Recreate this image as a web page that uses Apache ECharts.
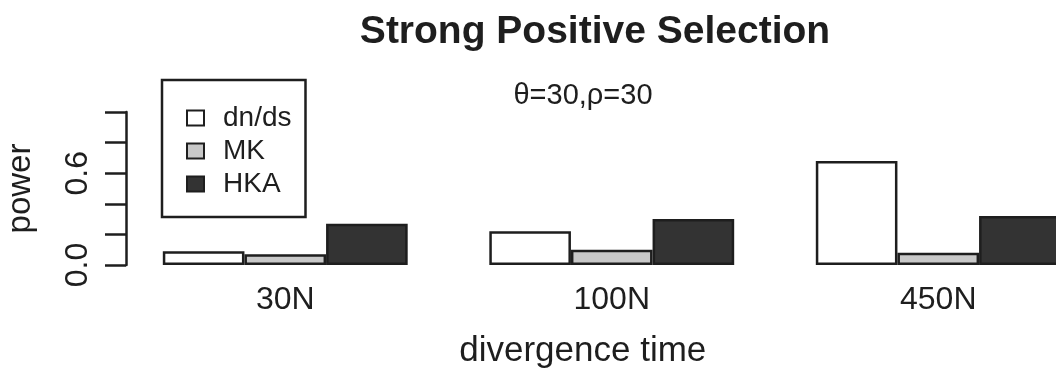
<!DOCTYPE html>
<html>
<head>
<meta charset="utf-8">
<script src="https://cdn.jsdelivr.net/npm/echarts@6/dist/echarts.min.js"></script>
<style>
  html, body { margin: 0; padding: 0; background: #ffffff; }
  #chart { width: 1056px; height: 374px; }
</style>
</head>
<body>
<div id="chart"></div>
<script>
// ---- data ----
const categories = ['30N', '100N', '450N'];
const seriesNames = ['dn/ds', 'MK', 'HKA'];
const dnds = [0.09, 0.22, 0.68];
const mk = [0.07, 0.10, 0.08];
const hka = [0.27, 0.30, 0.32];
const yTickLabels = ['0.0', '0.6'];
const titleText = 'Strong Positive Selection';
const subtitleText = 'θ=30,ρ=30';
const xAxisTitle = 'divergence time';
const yAxisTitle = 'power';

const FONT = '"Liberation Sans", Arial, Helvetica, sans-serif';
const INK = '#1e1e1e';
const fills = ['#ffffff', '#c8c8c8', '#333333'];
const values = [dnds, mk, hka];

const chart = echarts.init(document.getElementById('chart'), null, { renderer: 'canvas' });

chart.setOption({
  backgroundColor: '#ffffff',
  animation: false,
  textStyle: { fontFamily: FONT, color: INK },
  title: [
    {
      text: titleText,
      left: 590, top: 8,
      textAlign: 'center',
      textStyle: { fontFamily: FONT, fontSize: 39, fontWeight: 'bold', color: INK }
    },
    {
      text: subtitleText,
      left: 578, top: 76,
      textAlign: 'center',
      textStyle: { fontFamily: FONT, fontSize: 29, fontWeight: 'normal', color: INK }
    }
  ],
  legend: {
    data: seriesNames,
    orient: 'vertical',
    left: 162, top: 80,
    padding: [24, 14, 19, 24],
    itemWidth: 17, itemHeight: 15,
    itemGap: 5,
    borderColor: INK, borderWidth: 2.5,
    backgroundColor: '#ffffff',
    icon: 'rect',
    textStyle: { fontFamily: FONT, fontSize: 28, color: INK, lineHeight: 27, padding: [0, 0, 0, 14] }
  },
  grid: { left: 122, top: 112, width: 979.5, height: 153, containLabel: false, outerBoundsMode: 'none' },
  xAxis: {
    type: 'category',
    data: categories,
    axisLine: { show: false },
    axisTick: { show: false },
    axisLabel: { fontFamily: FONT, fontSize: 32, color: INK, margin: 19 },
    name: xAxisTitle,
    nameLocation: 'middle',
    nameGap: 69,
    nameTextStyle: { fontFamily: FONT, fontSize: 35, color: INK, padding: [0, 58, 0, 0] }
  },
  yAxis: {
    type: 'value',
    min: 0, max: 1, interval: 0.2,
    offset: -4,
    axisLine: { show: true, lineStyle: { color: INK, width: 2.5 } },
    axisTick: { show: true, length: 21, lineStyle: { color: INK, width: 2.5 } },
    splitLine: { show: false },
    axisLabel: {
      rotate: 90,
      margin: 32,
      fontFamily: FONT, fontSize: 32, color: INK,
      formatter: function (v) {
        const s = v.toFixed(1);
        return yTickLabels.indexOf(s) >= 0 ? s : '';
      }
    },
    name: yAxisTitle,
    nameLocation: 'middle',
    nameRotate: 90,
    nameGap: 89,
    nameTextStyle: { fontFamily: FONT, fontSize: 33, color: INK }
  },
  series: seriesNames.map(function (name, i) {
    return {
      name: name,
      type: 'bar',
      data: values[i],
      barGap: '0%',
      barCategoryGap: '25%',
      itemStyle: { color: fills[i], borderColor: INK, borderWidth: 2.5 }
    };
  })
});
</script>
</body>
</html>
